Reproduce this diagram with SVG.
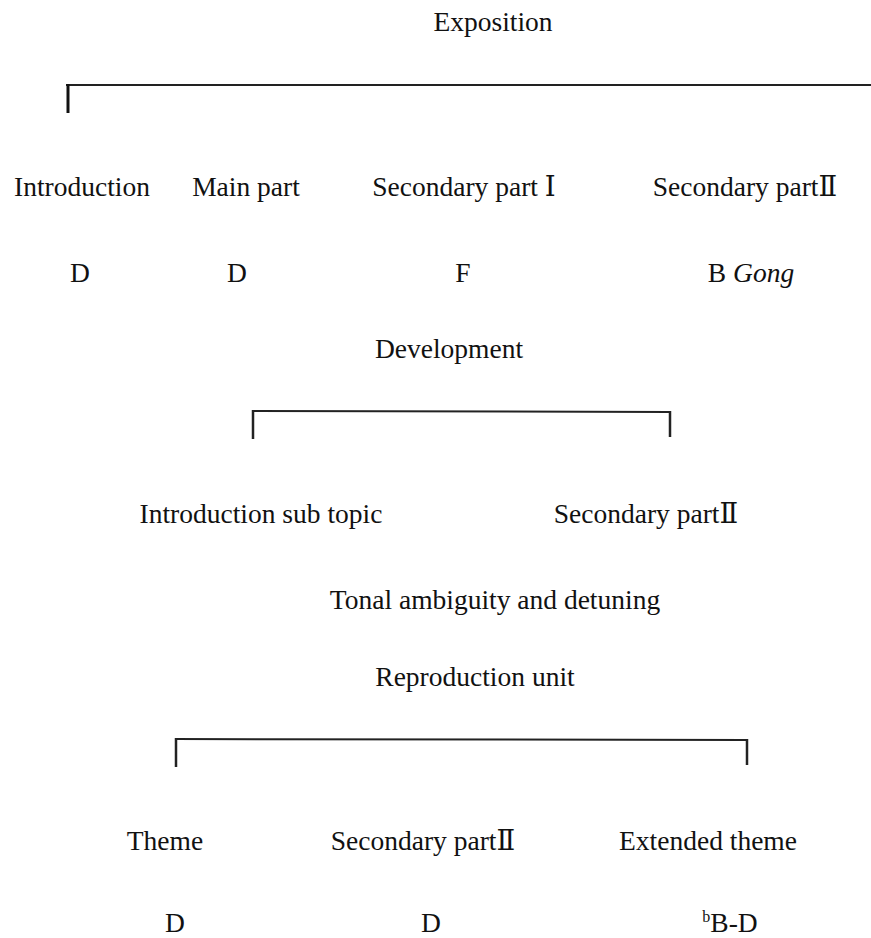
<svg xmlns="http://www.w3.org/2000/svg" width="871" height="938" viewBox="0 0 871 938">
<style>
text{font-family:"Liberation Serif","DejaVu Serif","Noto Sans CJK SC",serif;font-size:27.5px;fill:#111;text-anchor:middle}
.ln{stroke:#222;stroke-width:2;fill:none}
.tk{stroke:#111;stroke-width:3;fill:none}
.tk2{stroke:#222;stroke-width:2.5;fill:none}
</style>
<rect width="871" height="938" fill="#fff"/>
<g id="connectors">
<line class="ln" x1="66" y1="85" x2="871" y2="85"/>
<line class="tk" x1="68" y1="84" x2="68" y2="113"/>
<line class="ln" x1="252" y1="411" x2="670" y2="412"/>
<line class="tk2" x1="253" y1="410" x2="253" y2="439"/>
<line class="tk2" x1="670" y1="411" x2="670" y2="437"/>
<line class="ln" x1="175" y1="739" x2="747" y2="740"/>
<line class="tk2" x1="176" y1="738" x2="176" y2="767"/>
<line class="tk2" x1="747" y1="739" x2="747" y2="765"/>
</g>
<g id="exposition"><text x="493" y="31">Exposition</text></g>
<g id="introduction"><text x="82" y="196">Introduction</text><text x="80" y="282">D</text></g>
<g id="main-part"><text x="246" y="196">Main part</text><text x="237" y="282">D</text></g>
<g id="secondary-1"><text x="464" y="196">Secondary part Ⅰ</text><text x="463" y="282">F</text></g>
<g id="secondary-2"><text x="745" y="196">Secondary partⅡ</text><text x="751" y="282">B <tspan font-style="italic">Gong</tspan></text></g>
<g id="development"><text x="449" y="358">Development</text></g>
<g id="intro-sub"><text x="261" y="523">Introduction sub topic</text></g>
<g id="dev-secondary-2"><text x="646" y="523">Secondary partⅡ</text></g>
<g id="tonal"><text x="495" y="609">Tonal ambiguity and detuning</text></g>
<g id="reproduction"><text x="475" y="686">Reproduction unit</text></g>
<g id="theme"><text x="165" y="850">Theme</text><text x="175" y="932">D</text></g>
<g id="rep-secondary-2"><text x="423" y="850">Secondary partⅡ</text><text x="431" y="932">D</text></g>
<g id="extended"><text x="708" y="850">Extended theme</text><text x="730" y="932"><tspan font-size="16" dy="-10">b</tspan><tspan dy="10">B-D</tspan></text></g>
</svg>
